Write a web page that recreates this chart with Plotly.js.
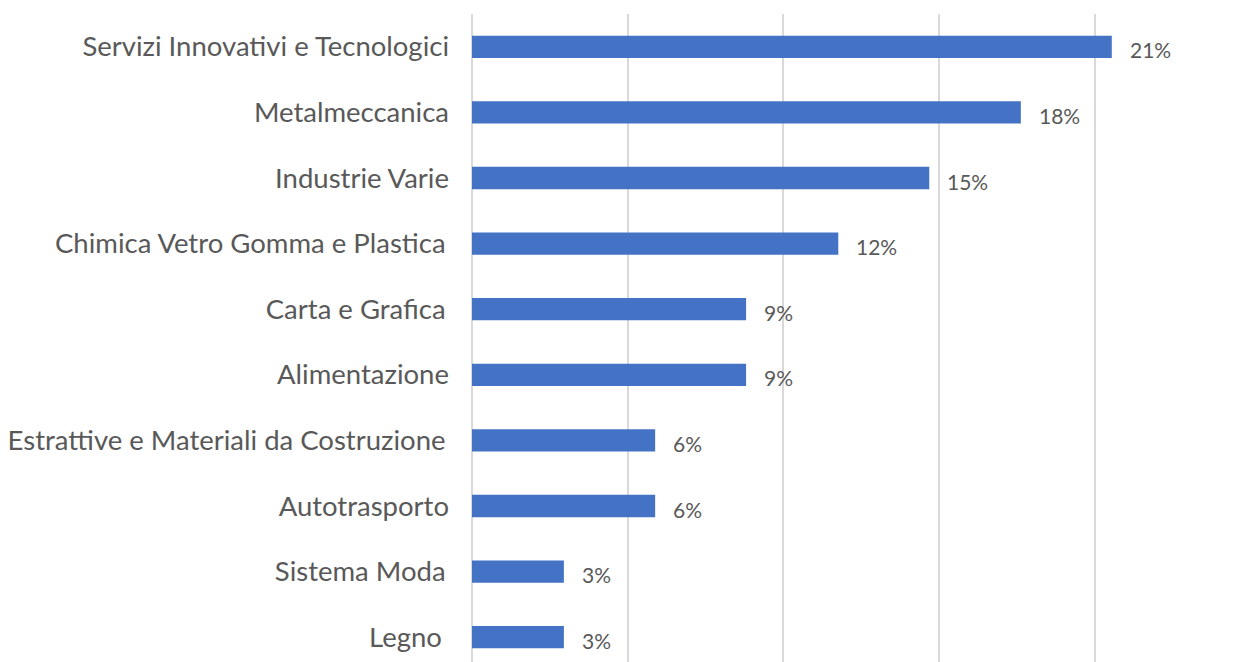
<!DOCTYPE html>
<html>
<head>
<meta charset="utf-8">
<script src="https://cdn.plot.ly/plotly-3.0.1.min.js"></script>
<style>
  html, body { margin: 0; padding: 0; background: #fff; }
  #chart { width: 1237px; height: 662px; }
</style>
</head>
<body>
<div id="chart"></div>
<script>
// sectors, bottom to top
var sectors = [
  'Legno ',
  'Sistema Moda\u2009',
  'Autotrasporto',
  'Estrattive e Materiali da Costruzione\u2009',
  'Alimentazione',
  'Carta e Grafica\u2009',
  'Chimica Vetro Gomma e Plastica\u2009',
  'Industrie Varie',
  'Metalmeccanica',
  'Servizi Innovativi e Tecnologici'
];
var shares = [0.0295, 0.0295, 0.0588, 0.0588, 0.088, 0.088, 0.1176, 0.1468, 0.1762, 0.2054];
var shareLabels = ['3%', '3%', '6%', '6%', '9%', '9%', '12%', '15%', '18%', '21%'];

var textColor = '#595959';

var bars = {
  type: 'bar',
  orientation: 'h',
  x: shares,
  y: sectors,
  width: 0.34,
  marker: { color: '#4472C4', line: { width: 0 } },
  hoverinfo: 'skip'
};

// value labels to the right of each bar
var labels = shares.map(function (v, i) {
  return {
    x: v, y: sectors[i],
    xref: 'x', yref: 'y',
    text: shareLabels[i],
    showarrow: false,
    xanchor: 'left',
    xshift: 16,
    yshift: -3,
    font: { family: 'Lato, sans-serif', size: 21, color: textColor }
  };
});

var layout = {
  width: 1237,
  height: 662,
  margin: { l: 472, r: 0, t: 14, b: 0 },
  paper_bgcolor: '#ffffff',
  plot_bgcolor: '#ffffff',
  showlegend: false,
  font: { family: 'Lato, sans-serif', color: textColor },
  xaxis: {
    range: [0, 0.2456],
    dtick: 0.05,
    showticklabels: false,
    showgrid: true,
    gridcolor: '#d9d9d9',
    gridwidth: 2,
    zeroline: true,
    zerolinecolor: '#d9d9d9',
    zerolinewidth: 2,
    fixedrange: true
  },
  yaxis: {
    type: 'category',
    range: [-0.378, 9.5],
    showgrid: false,
    zeroline: false,
    ticks: '',
    ticklabelstandoff: 22,
    tickfont: { family: 'Lato, sans-serif', size: 27.5, color: textColor },
    fixedrange: true
  },
  annotations: labels
};

Plotly.newPlot('chart', [bars], layout, { displayModeBar: false, staticPlot: true });
</script>
</body>
</html>
